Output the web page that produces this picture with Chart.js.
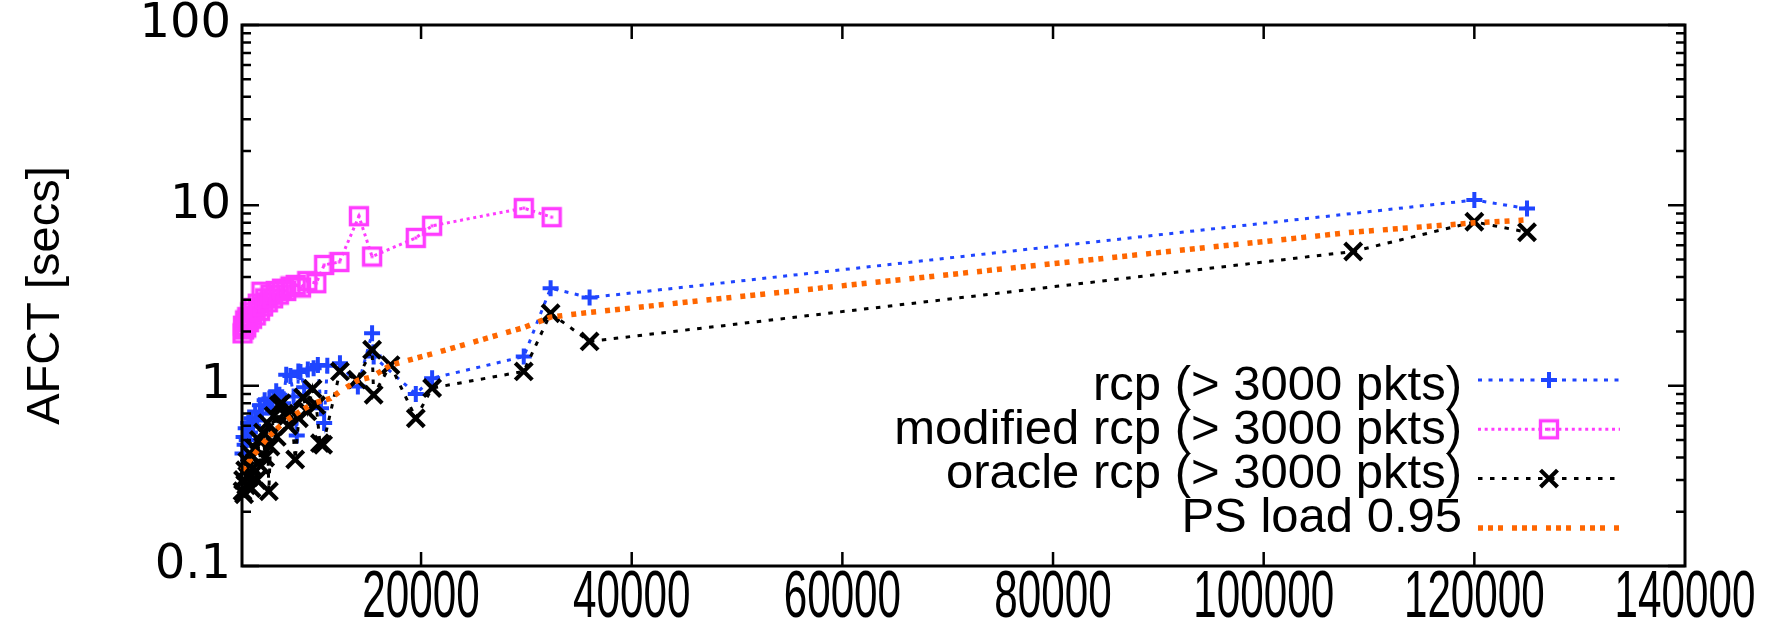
<!DOCTYPE html>
<html><head><meta charset="utf-8">
<script src="https://cdn.jsdelivr.net/npm/chart.js@4.4.1/dist/chart.umd.min.js"></script>
<style>html,body{margin:0;padding:0;background:#fff;}#wrap{width:1787px;height:638px;}</style>
</head><body><div id="wrap"><canvas id="c" width="1787" height="638"></canvas></div>
<script>
// ---- data ----
const X_TICKS = [20000, 40000, 60000, 80000, 100000, 120000, 140000];
const Y_TICKS = [0.1,0.2,0.3,0.4,0.5,0.6,0.7,0.8,0.9,1,2,3,4,5,6,7,8,9,10,20,30,40,50,60,70,80,90,100];
const Y_LABELS = [0.1, 1, 10, 100];
const Y_TITLE = 'AFCT [secs]';
const SERIES_NAMES = ['rcp (> 3000 pkts)', 'modified rcp (> 3000 pkts)', 'oracle rcp (> 3000 pkts)', 'PS load 0.95'];

const rcpX = [3050,3150,3250,3350,3450,3600,3750,3900,4050,4250,4450,4700,4900,5150,5350,5600,5900,6250,6550,6900,7200,7600,7900,8200,8350,8550,8900,9250,9800,10200,10500,10800,11100,12300,14000,15350,15500,19500,21050,29750,32300,36000,120000,125000];
const rcpY = [0.42,0.52,0.47,0.58,0.50,0.62,0.55,0.66,0.60,0.72,0.64,0.78,0.70,0.83,0.76,0.85,0.74,0.93,0.89,0.80,1.15,1.13,0.87,0.53,1.20,1.19,0.98,1.23,1.25,1.30,0.75,0.62,1.29,1.33,0.99,1.95,1.45,0.90,1.10,1.45,3.47,3.08,10.7,9.6];

const modX = [3050,3100,3200,3300,3400,3500,3650,3800,3950,4100,4300,4500,4700,4850,5000,5200,5450,5700,5950,6200,6500,6800,7200,7600,8100,8600,9200,10050,10800,12250,14100,15350,19500,21050,29750,32400];
const modY = [1.95,2.15,2.05,2.30,2.10,2.40,2.25,2.55,2.35,2.70,2.45,2.85,2.60,3.32,2.75,3.05,2.90,3.20,3.05,3.35,3.20,3.45,3.35,3.55,3.62,3.50,3.80,3.70,4.67,4.85,8.70,5.20,6.60,7.70,9.65,8.60];

const oraX = [3050,3100,3200,3300,3400,3500,3650,3750,3900,4050,4200,4400,4600,4800,5000,5200,5400,5550,5700,6000,6300,6500,6750,7000,7400,7700,8050,8400,8800,9200,9700,10050,10400,10700,12300,13900,15350,15500,17100,19500,21050,29750,32300,36000,108500,120000,125000];
const oraY = [0.26,0.30,0.25,0.34,0.28,0.38,0.31,0.42,0.27,0.35,0.45,0.30,0.50,0.36,0.55,0.40,0.62,0.26,0.46,0.68,0.52,0.78,0.80,0.70,0.60,0.72,0.39,0.66,0.86,0.72,0.96,0.78,0.48,0.47,1.20,1.08,1.58,0.89,1.30,0.66,0.97,1.20,2.52,1.76,5.55,8.1,7.1];

const psX = [3000,3500,4500,5500,6500,7500,8500,9800,11400,12300,14000,15350,17100,19500,21050,29750,32300,36000,108500,120000,125000];
const psY = [0.34,0.37,0.44,0.52,0.59,0.66,0.72,0.80,0.85,0.93,1.07,1.12,1.30,1.42,1.50,2.10,2.40,2.55,7.1,8.0,8.3];

// ---- styling ----
const BLUE = '#1f45ff', MAG = '#ff3cff', BLK = '#000000', ORG = '#ff6600';
const pts = (xs, ys) => xs.map((x, i) => ({x: x, y: ys[i]}));

function squareDot(color) {
  const c = document.createElement('canvas');
  c.width = 22; c.height = 22;
  const g = c.getContext('2d');
  g.strokeStyle = color; g.lineWidth = 3.4;
  g.strokeRect(2.5, 2.5, 17, 17);
  g.fillStyle = color; g.fillRect(9.5, 9.5, 3, 3);
  return c;
}
const magMarker = squareDot(MAG);

const LEG = {textRight: 1462, x0: 1478, x1: 1620, xm: 1549, y0: 380, dy: 49.3, ty0: 386, tdy: 44};
const X_FONT = {family: '"Liberation Sans", Arial, sans-serif', size: 67};
const X_LABEL_SX = 0.63, X_LABEL_DY = 33;

const narrowXLabels = {
  id: 'narrowXLabels',
  afterLayout(chart) {
    const s = chart.scales.x;
    s.drawLabels = function () {
      const ctx = this.ctx, a = this.chart.chartArea;
      ctx.save();
      ctx.font = X_FONT.size + 'px ' + X_FONT.family;
      ctx.fillStyle = '#000'; ctx.textAlign = 'center'; ctx.textBaseline = 'middle';
      this.ticks.forEach(t => {
        const px = this.getPixelForValue(t.value);
        ctx.save();
        ctx.translate(px, a.bottom + X_LABEL_DY);
        ctx.scale(X_LABEL_SX, 1);
        ctx.fillText(t.label, 0, 0);
        ctx.restore();
      });
      ctx.restore();
    };
  }
};

const framePlugin = {
  id: 'frameTicks',
  afterDatasetsDraw(chart) {
    const {ctx, chartArea: a} = chart;
    const xs = chart.scales.x, ys = chart.scales.y;
    ctx.save();
    ctx.setLineDash([]);
    ctx.strokeStyle = '#000';
    ctx.lineWidth = 2.5;
    ctx.beginPath();
    X_TICKS.forEach(v => {
      const px = xs.getPixelForValue(v);
      if (px < a.right - 2) {
        ctx.moveTo(px, a.bottom); ctx.lineTo(px, a.bottom - 14);
        ctx.moveTo(px, a.top); ctx.lineTo(px, a.top + 14);
      }
    });
    Y_TICKS.forEach(v => {
      const py = ys.getPixelForValue(v);
      const L = Y_LABELS.includes(v) ? 17 : 9;
      ctx.moveTo(a.left, py); ctx.lineTo(a.left + L, py);
      ctx.moveTo(a.right, py); ctx.lineTo(a.right - L, py);
    });
    ctx.stroke();
    ctx.lineWidth = 3;
    ctx.strokeRect(a.left, a.top, a.right - a.left, a.bottom - a.top);
    ctx.restore();
  }
};

const legendPlugin = {
  id: 'rightLegend',
  afterDraw(chart) {
    const ctx = chart.ctx;
    ctx.save();
    chart.data.datasets.forEach((ds, i) => {
      const y = LEG.y0 + i * LEG.dy;
      ctx.font = '49px "Liberation Sans", Arial, sans-serif';
      ctx.fillStyle = '#000';
      ctx.textAlign = 'right';
      ctx.textBaseline = 'middle';
      ctx.fillText(ds.label, LEG.textRight, LEG.ty0 + i * LEG.tdy);
      ctx.beginPath();
      ctx.setLineDash(ds.borderDash || []);
      ctx.lineWidth = ds.borderWidth;
      ctx.strokeStyle = ds.borderColor;
      ctx.lineCap = 'butt';
      ctx.moveTo(LEG.x0, y); ctx.lineTo(LEG.x1, y);
      ctx.stroke();
      ctx.setLineDash([]);
      if (ds.pointStyle && ds.pointRadius > 0) {
        ctx.strokeStyle = ds.pointBorderColor || ds.borderColor;
        ctx.fillStyle = 'rgba(0,0,0,0)';
        ctx.lineWidth = ds.pointBorderWidth;
        Chart.helpers.drawPoint(ctx, {pointStyle: ds.pointStyle, radius: ds.pointRadius, borderWidth: ds.pointBorderWidth, rotation: 0}, LEG.xm, y);
      }
    });
    ctx.restore();
  }
};

const common = {showLine: true, tension: 0, fill: false, clip: false, borderCapStyle: 'butt', pointHoverRadius: 0};

new Chart(document.getElementById('c'), {
  type: 'scatter',
  data: {
    datasets: [
      Object.assign({}, common, {label: SERIES_NAMES[0], data: pts(rcpX, rcpY), borderColor: BLUE, backgroundColor: 'rgba(0,0,0,0)',
        borderWidth: 3, borderDash: [4, 6.5], pointStyle: 'cross', pointRadius: 8, pointBorderWidth: 4, pointBorderColor: BLUE, order: 4}),
      Object.assign({}, common, {label: SERIES_NAMES[1], data: pts(modX, modY), borderColor: MAG, backgroundColor: 'rgba(0,0,0,0)',
        borderWidth: 3, borderDash: [3, 3.7], pointStyle: magMarker, pointRadius: 11, pointBorderWidth: 3, pointBorderColor: MAG, order: 3}),
      Object.assign({}, common, {label: SERIES_NAMES[2], data: pts(oraX, oraY), borderColor: BLK, backgroundColor: 'rgba(0,0,0,0)',
        borderWidth: 3, borderDash: [4.5, 7.5], pointStyle: 'crossRot', pointRadius: 12, pointBorderWidth: 4.2, pointBorderColor: BLK, order: 2}),
      Object.assign({}, common, {label: SERIES_NAMES[3], data: pts(psX, psY), borderColor: ORG, backgroundColor: 'rgba(0,0,0,0)',
        borderWidth: 5.5, borderDash: [5, 5, 5, 5, 5, 9], pointRadius: 0, pointStyle: false, order: 1})
    ]
  },
  options: {
    responsive: false,
    devicePixelRatio: 1,
    animation: false,
    events: [],
    layout: {padding: {top: 25, right: 102, bottom: 0, left: 0}},
    plugins: {legend: {display: false}, tooltip: {enabled: false}},
    scales: {
      x: {
        type: 'linear', min: 3000, max: 140000,
        afterBuildTicks: s => { s.ticks = X_TICKS.map(v => ({value: v})); },
        afterFit: s => { s.height = 72; s.paddingLeft = 0; s.paddingRight = 0; s.paddingTop = 0; s.paddingBottom = 0; },
        grid: {display: false, drawTicks: false},
        border: {display: false},
        ticks: {callback: v => String(v), autoSkip: false, maxRotation: 0, padding: 0, color: '#000',
          font: {family: X_FONT.family, size: X_FONT.size, lineHeight: 1}}
      },
      y: {
        type: 'logarithmic', min: 0.1, max: 100,
        afterBuildTicks: s => { s.ticks = Y_TICKS.map(v => ({value: v})); },
        afterFit: s => { s.width = 242; s.paddingLeft = 0; s.paddingRight = 0; s.paddingTop = 0; s.paddingBottom = 0; },
        grid: {display: false, drawTicks: false},
        border: {display: false},
        ticks: {callback: v => (Y_LABELS.includes(v) ? String(v) : ''), autoSkip: false, padding: 11, color: '#000',
          font: {family: '"DejaVu Sans", sans-serif', size: 48, lineHeight: 1}},
        title: {display: true, text: Y_TITLE, color: '#000', padding: {top: 18, bottom: 0},
          font: {family: '"Liberation Sans", Arial, sans-serif', size: 47}}
      }
    }
  },
  plugins: [narrowXLabels, framePlugin, legendPlugin]
});
</script>
</body></html>
